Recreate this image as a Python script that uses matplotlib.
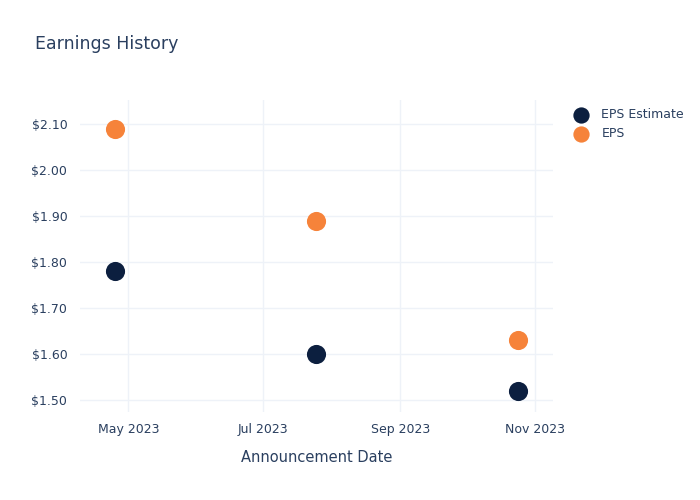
import matplotlib
matplotlib.use("Agg")
import matplotlib.pyplot as plt
import matplotlib.dates as mdates
import numpy as np

# data
dates = np.array(["2023-04-25", "2023-07-25", "2023-10-24"], dtype="datetime64[D]")
eps_estimate = [1.78, 1.60, 1.52]
eps_actual = [2.09, 1.89, 1.63]
ytick_vals = [1.5, 1.6, 1.7, 1.8, 1.9, 2.0, 2.1]

txt = "#2a3f5f"
grid = "#eef2f8"

fig = plt.figure(figsize=(7, 5), dpi=100)
ax = fig.add_axes([0.114, 0.176, 0.676, 0.624])

ax.scatter(dates, eps_estimate, s=190, color="#0c1f3f", label="EPS Estimate", zorder=3, linewidths=0)
ax.scatter(dates, eps_actual, s=190, color="#f6833a", label="EPS", zorder=3, linewidths=0)

ax.set_xlim(np.datetime64("2023-04-09"), np.datetime64("2023-11-09"))
ax.set_ylim(1.474, 2.152)
ax.set_yticks(ytick_vals)
ax.yaxis.set_major_formatter(plt.FuncFormatter(lambda v, p: "${:.2f}".format(v)))
ax.xaxis.set_major_locator(mdates.MonthLocator(bymonth=[5, 7, 9, 11]))
ax.xaxis.set_major_formatter(mdates.DateFormatter("%b %Y"))

for s in ax.spines.values():
    s.set_visible(False)
ax.grid(True, color=grid, linewidth=1)
ax.set_axisbelow(True)
ax.tick_params(length=0, labelsize=9, colors=txt)
ax.tick_params(axis="y", pad=9)
ax.tick_params(axis="x", pad=8)
ax.set_xlabel("Announcement Date", fontsize=10.5, color=txt, labelpad=10)

fig.text(0.05, 0.912, "Earnings History", fontsize=12.5, color=txt, va="center")

leg = ax.legend(loc="upper left", bbox_to_anchor=(1.01, 1.01), frameon=False,
                fontsize=9, labelcolor=txt, handletextpad=0.6, labelspacing=0.5,
                markerscale=0.85)

fig.savefig("out.png", dpi=100)
